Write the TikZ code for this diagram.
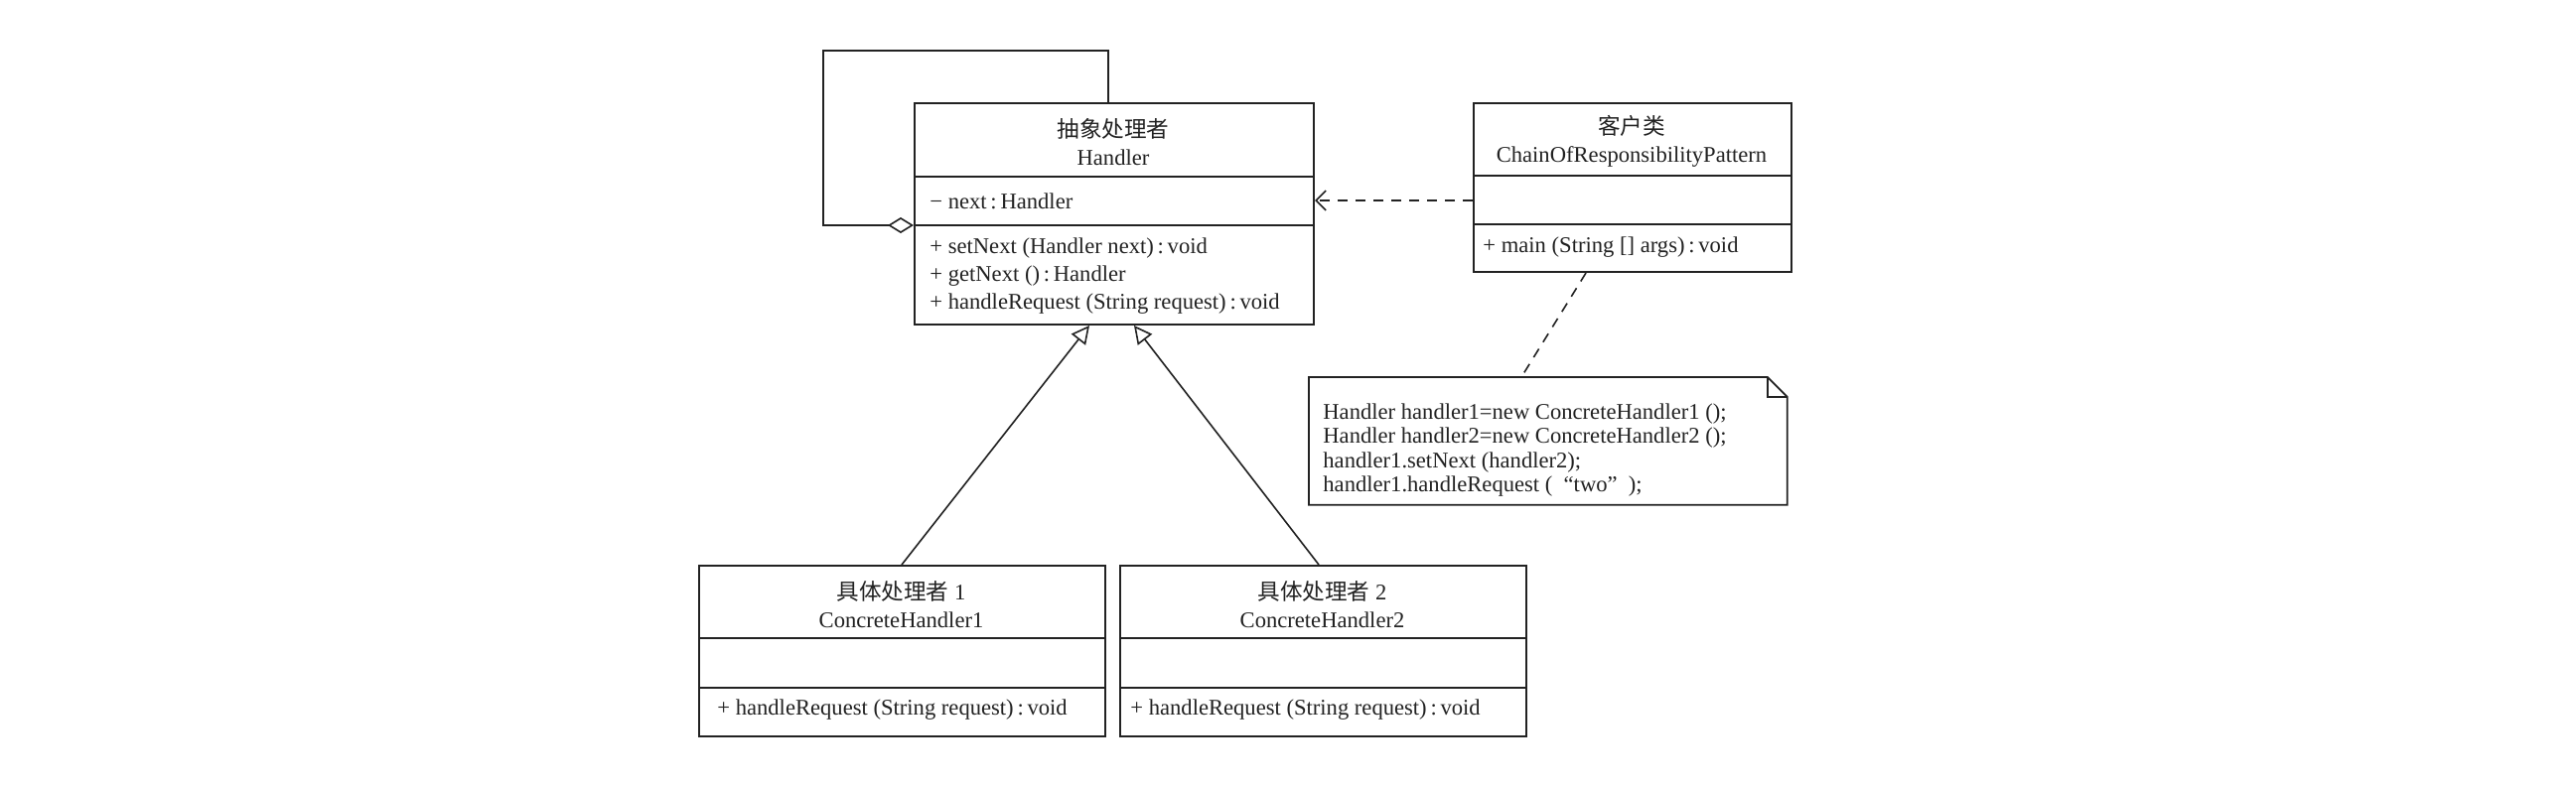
\documentclass[tikz,border=0pt]{standalone}
\usepackage{fontspec}
\setmainfont{Liberation Serif}
\newfontfamily\cjk{Noto Sans CJK SC}
\usetikzlibrary{arrows.meta,calc}
\definecolor{ink}{HTML}{222222}
\tikzset{
  umlbox/.style={draw=ink, line width=1pt, rectangle, inner sep=0pt, anchor=north west},
  txt/.style={inner sep=0pt, text=ink, font=\fontsize{11.3}{14}\selectfont},
  ttl/.style={txt, align=center},
  mem/.style={txt, anchor=west, align=left},
  inh/.style={draw=ink, line width=0.8pt, -{Triangle[open,length=9pt,width=9pt]}},
  dep/.style={draw=ink, line width=0.8pt, dash pattern=on 5pt off 4pt, -{Straight Barb[length=5pt,width=10pt]}},
  link/.style={draw=ink, line width=0.8pt, dash pattern=on 5pt off 4pt},
  agg/.style={draw=ink, line width=0.8pt, {Diamond[open,length=13pt,width=8pt]}-},
  rule/.style={draw=ink, line width=0.8pt}
}
\begin{document}
\begin{tikzpicture}[x=0.5pt,y=-0.5pt]
\useasboundingbox[fill=white] (0,0) rectangle (2594,792);

% Handler
\node[umlbox, minimum width=201pt, minimum height=111.5pt] (h) at (920,103) {};
\draw[rule] (h.west |- 0,178) -- (h.east |- 0,178);
\draw[rule] (h.west |- 0,227) -- (h.east |- 0,227);
\node[ttl] (ht) at (1121,143) {{\cjk 抽象处理者}\\Handler};
\node[mem] (ha) at (936,203) {− next\,:\,Handler};
\node[mem] (hm) at (936,278) {+ setNext (Handler next)\,:\,void\\+ getNext ()\,:\,Handler\\+ handleRequest (String request)\,:\,void};

% Client
\node[umlbox, minimum width=160pt, minimum height=85pt] (cl) at (1483,103) {};
\draw[rule] (cl.west |- 0,177) -- (cl.east |- 0,177);
\draw[rule] (cl.west |- 0,226) -- (cl.east |- 0,226);
\node[ttl] (clt) at (1643,142) {{\cjk 客户类}\\ChainOfResponsibilityPattern};
\node[mem] (clm) at (1493,249) {+ main (String [] args)\,:\,void};

% Concrete handler 1
\node[umlbox, minimum width=204.5pt, minimum height=86pt] (c1) at (703,569) {};
\draw[rule] (c1.west |- 0,643) -- (c1.east |- 0,643);
\draw[rule] (c1.west |- 0,693) -- (c1.east |- 0,693);
\node[ttl] (c1t) at (907.5,609) {{\cjk 具体处理者} 1\\ConcreteHandler1};
\node[mem] (c1m) at (722,715) {+ handleRequest (String request)\,:\,void};

% Concrete handler 2
\node[umlbox, minimum width=204.5pt, minimum height=86pt] (c2) at (1127,569) {};
\draw[rule] (c2.west |- 0,643) -- (c2.east |- 0,643);
\draw[rule] (c2.west |- 0,693) -- (c2.east |- 0,693);
\node[ttl] (c2t) at (1331.5,609) {{\cjk 具体处理者} 2\\ConcreteHandler2};
\node[mem] (c2m) at (1138,715) {+ handleRequest (String request)\,:\,void};

% Note
\node[inner sep=0pt, minimum width=240.5pt, minimum height=64pt, anchor=north west] (note) at (1318,380) {};
\draw[draw=ink, line width=0.9pt] (note.north west) -- ($(note.north east)+(-20,0)$) -- ($(note.north east)+(0,20)$) -- (note.south east) -- (note.south west) -- cycle;
\draw[draw=ink, line width=0.9pt] ($(note.north east)+(-20,0)$) -- ($(note.north east)+(-20,20)$) -- ($(note.north east)+(0,20)$);
\node[mem, font=\fontsize{11.3}{12.2}\selectfont] (nt) at (1332,453.5) {Handler handler1=new ConcreteHandler1 ();\\Handler handler2=new ConcreteHandler2 ();\\handler1.setNext (handler2);\\handler1.handleRequest (\ \ “two”\ \ );};

% Connectors
\draw[agg] (h.west |- 0,227) -- (829,227) -- (829,51) -- (1116,51) -- (h.north -| 1116,0);
\draw[inh] (c1.north -| 908,0) -- (h.south -| 1097,0);
\draw[inh] (c2.north -| 1328,0) -- (h.south -| 1142,0);
\draw[dep] (cl.west |- 0,202) -- (h.east |- 0,202);
\draw[link] (cl.south -| 1597,0) -- (note.north -| 1532,0);
\end{tikzpicture}
\end{document}
